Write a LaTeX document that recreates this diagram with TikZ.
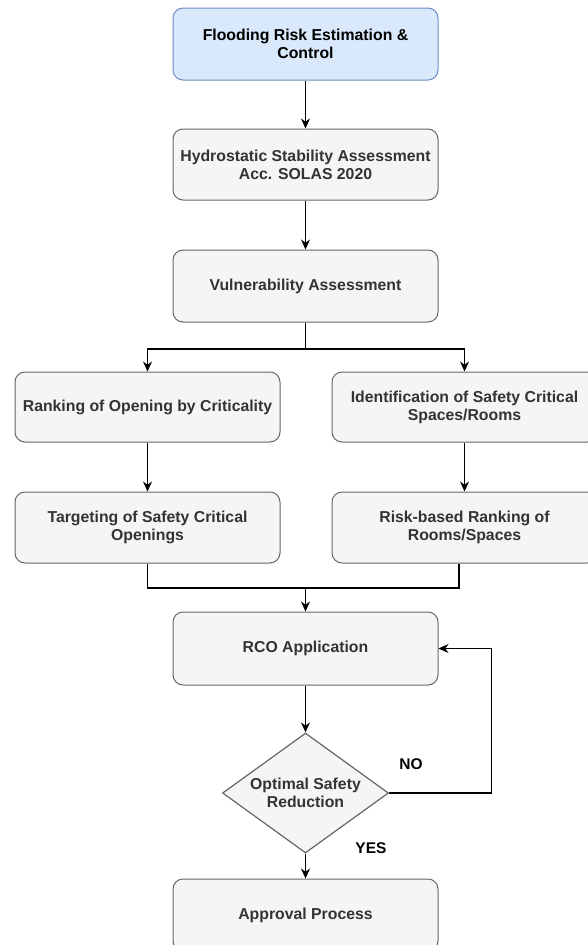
\documentclass[tikz,border=0pt]{standalone}
\usepackage{fontspec}
\setmainfont{Liberation Sans}
\usetikzlibrary{shapes.geometric,arrows.meta}
\definecolor{bluefill}{HTML}{DAE8FC}
\definecolor{blueline}{HTML}{6C8EBF}
\definecolor{grayfill}{HTML}{F5F5F5}
\definecolor{grayline}{HTML}{666666}
\definecolor{graytext}{HTML}{333333}
\begin{document}
\begin{tikzpicture}[x=1pt,y=-1pt,
  boxbase/.style={rectangle,rounded corners=10pt,line width=1pt,align=center,
    minimum width=265pt,minimum height=72pt,inner sep=2pt,
    font=\fontsize{15.8}{18}\selectfont\bfseries},
  graybox/.style={boxbase,fill=grayfill,draw=grayline,text=graytext},
  bluebox/.style={boxbase,fill=bluefill,draw=blueline,text=black},
  decbox/.style={diamond,fill=grayfill,draw=grayline,line width=1.2pt,text=graytext,
    minimum width=166pt,minimum height=120pt,aspect=1.383,inner sep=0pt,align=center,
    font=\fontsize{15.8}{18}\selectfont\bfseries},
  arr/.style={line width=1.3pt,draw=black,-{Stealth[length=10pt,width=9pt]}},
  ln/.style={line width=1.3pt,draw=black},
  lbl/.style={font=\fontsize{15.5}{18}\selectfont\bfseries,text=black,inner sep=0pt}
]
\useasboundingbox (0,0) rectangle (587,945);
\node[bluebox] (top) at (305.5,44) {Flooding Risk Estimation \&\\Control};
\node[graybox,minimum height=71pt] (hydro) at (305.5,164.5) {Hydrostatic Stability Assessment\\Acc. SOLAS 2020};
\node[graybox] (vuln) at (305.5,286) {Vulnerability Assessment};
\node[graybox,minimum height=70pt] (rank) at (147.5,407) {Ranking of Opening by Criticality};
\node[graybox,minimum height=70pt] (ident) at (464.5,407) {Identification of Safety Critical\\Spaces/Rooms};
\node[graybox,minimum height=71pt] (target) at (147.5,527.5) {Targeting of Safety Critical\\Openings};
\node[graybox,minimum height=71pt] (riskb) at (464.5,527.5) {Risk-based Ranking of\\Rooms/Spaces};
\node[graybox,minimum height=73pt] (rco) at (305.5,648.5) {RCO Application};
\node[decbox] (dec) at (305.5,793) {Optimal Safety\\Reduction};
\node[graybox] (appr) at (305.5,915) {Approval Process};

\coordinate (split) at (305.5,349);
\coordinate (merge) at (305.5,588);
\coordinate (loopx) at (491.5,0);

\draw[arr] (top) -- (hydro);
\draw[arr] (hydro) -- (vuln);
\draw[ln] (vuln.south) -- (split);
\draw[arr] (split) -| (rank.north);
\draw[arr] (split) -| (ident.north);
\draw[arr] (rank) -- (target);
\draw[arr] (ident) -- (riskb);
\draw[ln] (target.south) |- (merge);
\draw[ln] ([xshift=-5.5pt]riskb.south) |- (merge);
\draw[arr] (merge) -- (rco.north);
\draw[arr] (rco) -- (dec.north);
\draw[arr] (dec.south) -- (appr.north);
\draw[arr] (dec.east) -- (dec.east -| loopx) |- (rco.east);

\node[lbl] (no) at (411,764) {NO};
\node[lbl] (yes) at (371,848) {YES};
\end{tikzpicture}
\end{document}
